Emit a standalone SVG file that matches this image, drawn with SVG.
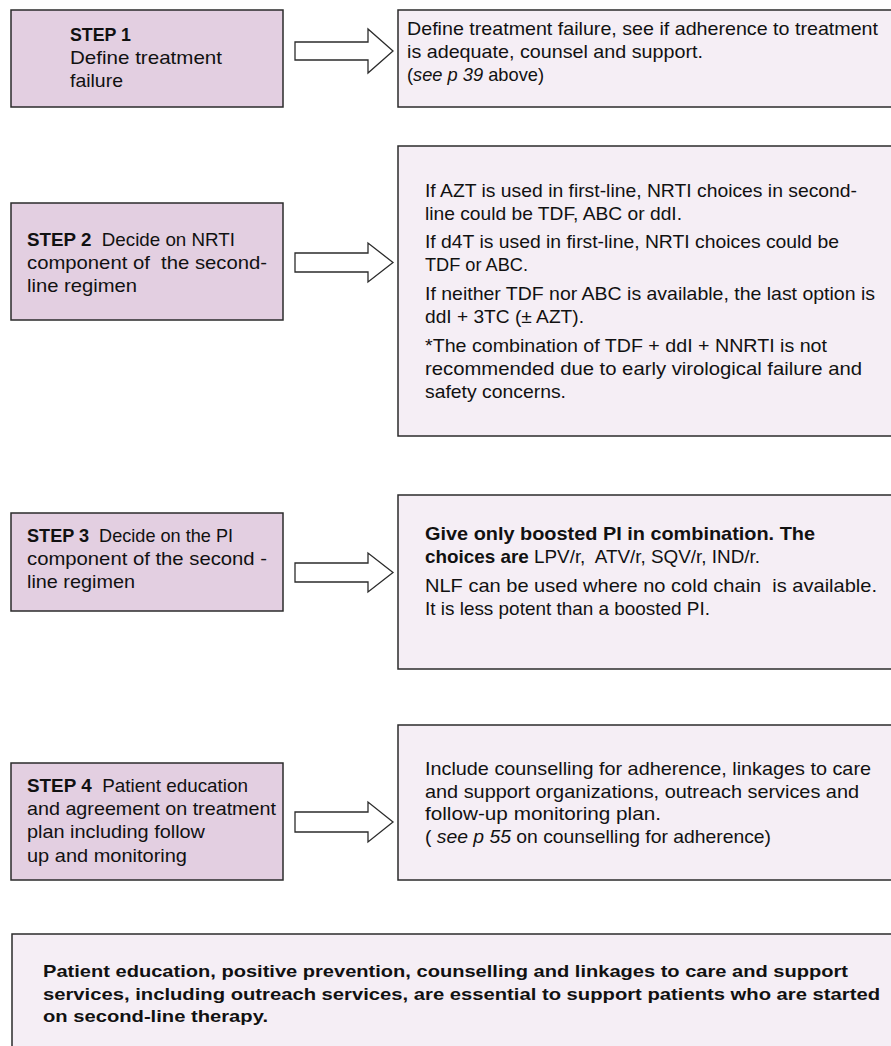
<svg xmlns="http://www.w3.org/2000/svg" width="891" height="1046" viewBox="0 0 891 1046">
<style>
.step{fill:#e3cfe1;stroke:#2b2b2b;stroke-width:1.5}
.info{fill:#f5eef5;stroke:#2b2b2b;stroke-width:1.5}
.arrow{fill:#ffffff;stroke:#2b2b2b;stroke-width:1.3}
text{font-family:"Liberation Sans",Arial,sans-serif;font-size:18.5px;fill:#111}
.b{font-weight:bold}
.i{font-style:italic}
.big{font-size:17px;font-weight:bold}
</style>
<rect width="891" height="1046" fill="#ffffff"/>
<g id="connectors">
<polygon class="arrow" points="295,42 368,42 368,29 393,51 368,73 368,60 295,60"/>
<polygon class="arrow" points="295,253 368,253 368,243 393,262.5 368,282 368,272 295,272"/>
<polygon class="arrow" points="295,563 368,563 368,553 393,572.5 368,592 368,582 295,582"/>
<polygon class="arrow" points="295,812 368,812 368,802 393,822 368,842 368,832 295,832"/>
</g>
<g id="step1">
<rect class="step" x="11" y="10" width="272" height="97"/>
<text x="70" y="41" class="b" textLength="61" lengthAdjust="spacingAndGlyphs">STEP 1</text>
<text x="70" y="64" textLength="152" lengthAdjust="spacingAndGlyphs">Define treatment</text>
<text x="70" y="87" textLength="53" lengthAdjust="spacingAndGlyphs">failure</text>
</g>
<g id="info1">
<rect class="info" x="398" y="10" width="500" height="97"/>
<text x="407" y="35" textLength="471" lengthAdjust="spacingAndGlyphs">Define treatment failure, see if adherence to treatment</text>
<text x="407" y="58" textLength="296" lengthAdjust="spacingAndGlyphs">is adequate, counsel and support.</text>
<text x="407" y="81" textLength="137" lengthAdjust="spacingAndGlyphs">(<tspan class="i">see p 39</tspan> above)</text>
</g>
<g id="step2">
<rect class="step" x="11" y="203" width="272" height="117"/>
<text x="27" y="246" xml:space="preserve" textLength="208" lengthAdjust="spacingAndGlyphs"><tspan class="b">STEP 2</tspan>  Decide on NRTI</text>
<text x="27" y="269" xml:space="preserve" textLength="240" lengthAdjust="spacingAndGlyphs">component of  the second-</text>
<text x="27" y="292" textLength="110" lengthAdjust="spacingAndGlyphs">line regimen</text>
</g>
<g id="info2">
<rect class="info" x="398" y="146" width="500" height="290"/>
<text x="425" y="197" textLength="432" lengthAdjust="spacingAndGlyphs">If AZT is used in first-line, NRTI choices in second-</text>
<text x="425" y="220" textLength="257" lengthAdjust="spacingAndGlyphs">line could be TDF, ABC or ddI.</text>
<text x="425" y="248" textLength="414" lengthAdjust="spacingAndGlyphs">If d4T is used in first-line, NRTI choices could be</text>
<text x="425" y="271" textLength="103" lengthAdjust="spacingAndGlyphs">TDF or ABC.</text>
<text x="425" y="300" textLength="450" lengthAdjust="spacingAndGlyphs">If neither TDF nor ABC is available, the last option is</text>
<text x="425" y="323" textLength="159" lengthAdjust="spacingAndGlyphs">ddI + 3TC (± AZT).</text>
<text x="425" y="352" textLength="402" lengthAdjust="spacingAndGlyphs">*The combination of TDF + ddI + NNRTI is not</text>
<text x="425" y="375" textLength="437" lengthAdjust="spacingAndGlyphs">recommended due to early virological failure and</text>
<text x="425" y="398" textLength="141" lengthAdjust="spacingAndGlyphs">safety concerns.</text>
</g>
<g id="step3">
<rect class="step" x="11" y="513" width="272" height="98"/>
<text x="27" y="542" xml:space="preserve" textLength="206" lengthAdjust="spacingAndGlyphs"><tspan class="b">STEP 3</tspan>  Decide on the PI</text>
<text x="27" y="565" textLength="240" lengthAdjust="spacingAndGlyphs">component of the second -</text>
<text x="27" y="588" textLength="108" lengthAdjust="spacingAndGlyphs">line regimen</text>
</g>
<g id="info3">
<rect class="info" x="398" y="495" width="500" height="174"/>
<text x="425" y="540" class="b" textLength="390" lengthAdjust="spacingAndGlyphs">Give only boosted PI in combination. The</text>
<text x="425" y="563" xml:space="preserve" textLength="335" lengthAdjust="spacingAndGlyphs"><tspan class="b">choices are</tspan> LPV/r,  ATV/r, SQV/r, IND/r.</text>
<text x="425" y="592" xml:space="preserve" textLength="452" lengthAdjust="spacingAndGlyphs">NLF can be used where no cold chain  is available.</text>
<text x="425" y="615" textLength="285" lengthAdjust="spacingAndGlyphs">It is less potent than a boosted PI.</text>
</g>
<g id="step4">
<rect class="step" x="11" y="763" width="272" height="117"/>
<text x="27" y="792" xml:space="preserve" textLength="221" lengthAdjust="spacingAndGlyphs"><tspan class="b">STEP 4</tspan>  Patient education</text>
<text x="27" y="815" textLength="249" lengthAdjust="spacingAndGlyphs">and agreement on treatment</text>
<text x="27" y="838" textLength="178" lengthAdjust="spacingAndGlyphs">plan including follow</text>
<text x="27" y="862" textLength="160" lengthAdjust="spacingAndGlyphs">up and monitoring</text>
</g>
<g id="info4">
<rect class="info" x="398" y="725" width="500" height="155"/>
<text x="425" y="775" textLength="446" lengthAdjust="spacingAndGlyphs">Include counselling for adherence, linkages to care</text>
<text x="425" y="798" textLength="434" lengthAdjust="spacingAndGlyphs">and support organizations, outreach services and</text>
<text x="425" y="820" textLength="236" lengthAdjust="spacingAndGlyphs">follow-up monitoring plan.</text>
<text x="425" y="843" xml:space="preserve" textLength="346" lengthAdjust="spacingAndGlyphs">( <tspan class="i">see p 55</tspan> on counselling for adherence)</text>
</g>
<g id="note">
<rect class="info" x="12" y="934" width="890" height="130"/>
<text x="43" y="977" class="big" textLength="805" lengthAdjust="spacingAndGlyphs">Patient education, positive prevention, counselling and linkages to care and support</text>
<text x="43" y="1000" class="big" textLength="837" lengthAdjust="spacingAndGlyphs">services, including outreach services, are essential to support patients who are started</text>
<text x="43" y="1022" class="big" textLength="225" lengthAdjust="spacingAndGlyphs">on second-line therapy.</text>
</g>
</svg>
